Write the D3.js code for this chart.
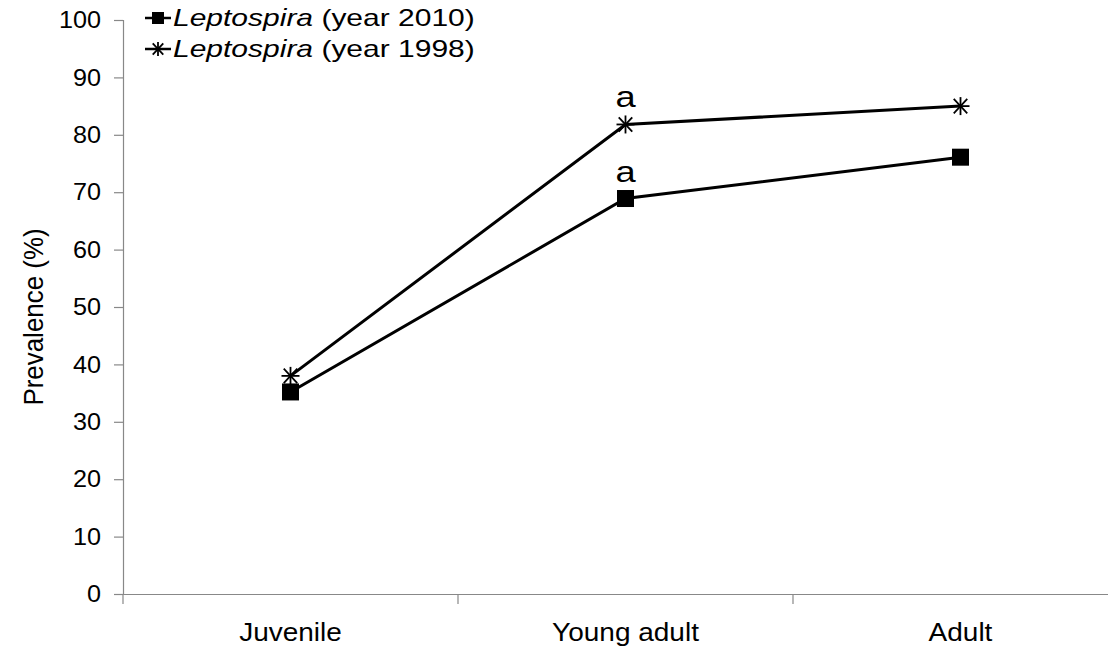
<!DOCTYPE html>
<html>
<head>
<meta charset="utf-8">
<script src="https://cdn.jsdelivr.net/npm/d3@7"></script>
<style>
body { margin: 0; background: #fff; }
svg text { font-family: "Liberation Sans", Arial, sans-serif; fill: #000; }
</style>
</head>
<body>
<div id="chart"></div>
<script>
const categories = ["Juvenile", "Young adult", "Adult"];
const prev2010 = [35.2, 68.9, 76.1];
const prev1998 = [38, 81.8, 85];
const yTicks = [0, 10, 20, 30, 40, 50, 60, 70, 80, 90, 100];
const annotations = [["Young adult", 81.8, "a"], ["Young adult", 68.9, "a"]];

var width = 1108, height = 647;
var svg = d3.select("#chart").append("svg")
    .attr("width", width)
    .attr("height", height);

var x = d3.scaleBand().domain(categories).range([123, 1128]);
var y = d3.scaleLinear().domain([0, 100]).range([594, 20]);

// y axis
var ysx = 1.05;
var yAxis = svg.append("g")
    .attr("transform", "translate(123,0)")
    .call(d3.axisLeft(y).tickValues(yTicks).tickSize(9));
yAxis.select(".domain").attr("stroke", "#888").attr("stroke-width", 1.2);
yAxis.selectAll(".tick line").attr("stroke", "#888").attr("stroke-width", 1.2);
yAxis.selectAll("text")
    .attr("x", -22 / ysx)
    .attr("transform", "scale(" + ysx + ",1)")
    .style("font-size", "24px").attr("fill", "#000");

// x axis
var xsx = 1.12;
var xAxis = svg.append("g")
    .attr("transform", "translate(0,594)")
    .call(d3.axisBottom(x).tickSize(0).tickPadding(29));
xAxis.select(".domain").attr("stroke", "#888").attr("stroke-width", 1.2);
xAxis.selectAll("text")
    .attr("transform", "scale(" + xsx + ",1)")
    .style("font-size", "25px").attr("fill", "#000");
// category boundary ticks
var bounds = categories.map(c => x(c)).concat([x.range()[1]]);
svg.append("g").selectAll("line")
    .data(bounds)
    .enter().append("line")
    .attr("x1", d => d).attr("x2", d => d)
    .attr("y1", 594).attr("y2", 604)
    .attr("stroke", "#888").attr("stroke-width", 1.2);

svg.append("text")
    .attr("transform", "translate(43," + (y(50) + 10) + ") rotate(-90) scale(1.08,1.15)")
    .attr("text-anchor", "middle")
    .style("font-size", "24px")
    .text("Prevalence (%)");

var cx = d => x(d) + x.bandwidth() / 2;
var line = d3.line().x((d, i) => cx(categories[i])).y(d => y(d));

svg.append("path").datum(prev1998)
    .attr("d", line).attr("fill", "none").attr("stroke", "#000").attr("stroke-width", 3);
svg.append("path").datum(prev2010)
    .attr("d", line).attr("fill", "none").attr("stroke", "#000").attr("stroke-width", 3);

function star(g, px, py, r) {
    var pts = [[-r, 0, r, 0], [-r * 0.75, -r * 0.8, r * 0.75, r * 0.8], [-r * 0.75, r * 0.8, r * 0.75, -r * 0.8], [0, -r, 0, r]];
    pts.forEach(p => {
        g.append("line")
            .attr("x1", px + p[0]).attr("y1", py + p[1])
            .attr("x2", px + p[2]).attr("y2", py + p[3])
            .attr("stroke", "#000").attr("stroke-width", 1.8);
    });
}

var m1998 = svg.append("g");
prev1998.forEach((v, i) => star(m1998, cx(categories[i]), y(v), 9));

svg.append("g").selectAll("rect")
    .data(prev2010)
    .enter().append("rect")
    .attr("x", (d, i) => cx(categories[i]) - 8.5)
    .attr("y", d => y(d) - 8.5)
    .attr("width", 17).attr("height", 17)
    .attr("fill", "#000");

svg.append("g").selectAll("text")
    .data(annotations)
    .enter().append("text")
    .attr("transform", d => "translate(" + cx(d[0]) + "," + (y(d[1]) - 17) + ") scale(1.25,1)")
    .attr("text-anchor", "middle")
    .style("font-size", "29px")
    .text(d => d[2]);

// legend
var legendItems = [["(year 2010)", "square"], ["(year 1998)", "star"]];
var legend = svg.append("g").attr("transform", "translate(145,18)");
legendItems.forEach((item, i) => {
    var g = legend.append("g").attr("transform", "translate(0," + (i * 31) + ")");
    g.append("line").attr("x1", 0).attr("x2", 26).attr("y1", 0).attr("y2", 0)
        .attr("stroke", "#000").attr("stroke-width", 2.5);
    if (item[1] === "square") {
        g.append("rect").attr("x", 7).attr("y", -6).attr("width", 12).attr("height", 12).attr("fill", "#000");
    } else {
        star(g, 13, 0, 7);
    }
    var t = g.append("text")
        .attr("transform", "translate(28,8) scale(1.25,1)")
        .style("font-size", "24px");
    t.append("tspan").style("font-style", "italic").text("Leptospira");
    t.append("tspan").text(" " + item[0]);
});
</script>
</body>
</html>
